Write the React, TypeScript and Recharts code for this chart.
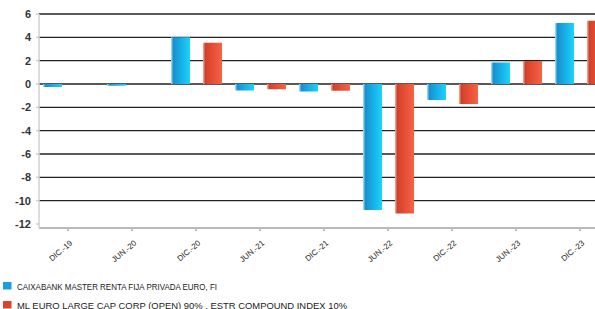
import React from "react";
import {
  BarChart,
  Bar,
  XAxis,
  YAxis,
  CartesianGrid,
  Legend,
} from "recharts";

const periods = ["DIC.-19", "JUN.-20", "DIC.-20", "JUN.-21", "DIC.-21", "JUN.-22", "DIC.-22", "JUN.-23", "DIC.-23"];
const fund = [-0.25, -0.15, 4.0, -0.55, -0.65, -10.8, -1.38, 1.84, 5.22];
const bench = [null, null, 3.53, -0.45, -0.57, -11.1, -1.72, 1.98, 5.42];
const yTicks = [-12, -10, -8, -6, -4, -2, 0, 2, 4, 6];
const gridValues = [-10, -8, -6, -4, -2, 0, 2, 4, 6];

const fundName = "CAIXABANK MASTER RENTA FIJA PRIVADA EURO, FI";
const benchName = "ML EURO LARGE CAP CORP (OPEN) 90% , ESTR COMPOUND INDEX 10%";

const data = periods.map((p, i) => ({ period: p, fund: fund[i], bench: bench[i] }));

const FONT = "'Liberation Sans Narrow', 'Liberation Sans', Arial, sans-serif";

function XTick({ x, y, payload }: any) {
  return (
    <g transform={`translate(${x + 5},${y + 11})`}>
      <text
        textAnchor="end"
        transform="rotate(-40)"
        fontSize={8}
        fontFamily={FONT}
        fill="#222"
      >
        {payload.value}
      </text>
    </g>
  );
}

function LegendBox() {
  const items = [
    { name: fundName, color: "#1b9ee0", w: 200 },
    { name: benchName, color: "#d9452c", w: 330 },
  ];
  return (
    <svg width={400} height={45} style={{ display: "block" }}>
      {items.map((it, i) => (
        <g key={i} transform={`translate(3,${18 + i * 19})`}>
          <rect x={0} y={0} width={8.5} height={7.5} fill={it.color} />
          <text
            x={14}
            y={7.5}
            fontSize={9}
            fontFamily={FONT}
            fill="#222"
            textLength={it.w}
            lengthAdjust="spacingAndGlyphs"
          >
            {it.name}
          </text>
        </g>
      ))}
    </svg>
  );
}

export default function App() {
  return (
    <div
      style={{
        position: "absolute",
        left: 0,
        top: 0,
        width: 595,
        height: 309,
        overflow: "hidden",
        background: "#fff",
      }}
    >
      <BarChart
        width={612}
        height={309}
        data={data}
        margin={{ top: 14, right: 0, left: 0, bottom: 0 }}
        barSize={19}
        barGap={13}
      >
        <defs>
          <linearGradient id="gBlue" x1="0" y1="0" x2="1" y2="0">
            <stop offset="0" stopColor="#bfe6f7" />
            <stop offset="0.12" stopColor="#1590d2" />
            <stop offset="1" stopColor="#1dd2fb" />
          </linearGradient>
          <linearGradient id="gRed" x1="0" y1="0" x2="1" y2="0">
            <stop offset="0" stopColor="#f3b4a4" />
            <stop offset="0.12" stopColor="#d3402a" />
            <stop offset="1" stopColor="#f86244" />
          </linearGradient>
        </defs>
        <CartesianGrid
          vertical={false}
          stroke="#222"
          strokeWidth={1.3}
          horizontalValues={gridValues}
        />
        <XAxis
          dataKey="period"
          interval={0}
          height={36}
          padding={{ left: -3, right: 0 }}
          stroke="#bbb"
          strokeWidth={2}
          tickSize={3}
          tick={<XTick />}
        />
        <YAxis
          width={39}
          domain={[-12.34, 6]}
          ticks={yTicks}
          allowDataOverflow
          stroke="#d0d0d0"
          strokeWidth={1.5}
          tickSize={3}
          tickMargin={5}
          tick={{ fill: "#333", fontSize: 11, fontWeight: "bold", fontFamily: "'Liberation Sans', Arial, sans-serif" }}
        />
        <Legend
          verticalAlign="bottom"
          align="left"
          height={45}
          content={() => <LegendBox />}
          wrapperStyle={{ left: 0, bottom: 0, width: 400 }}
        />
        <Bar dataKey="fund" fill="url(#gBlue)" isAnimationActive={false} />
        <Bar dataKey="bench" fill="url(#gRed)" isAnimationActive={false} />
      </BarChart>
    </div>
  );
}
